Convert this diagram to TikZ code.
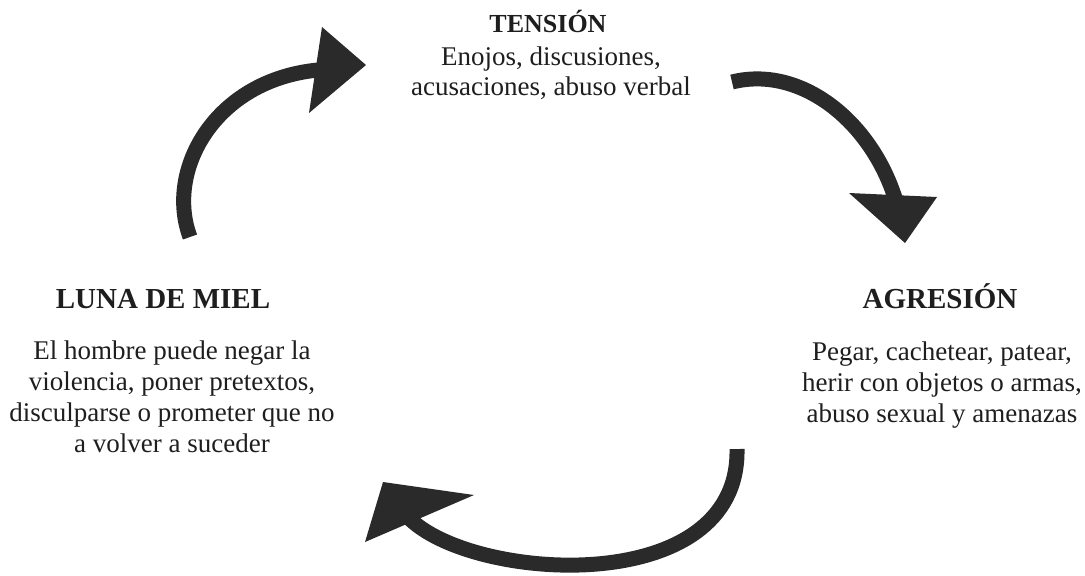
\documentclass[tikz,border=0pt]{standalone}
\usepackage{fontspec}
\setmainfont{Liberation Serif}
\usetikzlibrary{arrows.meta}
\definecolor{arrowgray}{HTML}{2A2A2A}
\definecolor{textgray}{HTML}{1E1E1E}

\begin{document}
\begin{tikzpicture}[x=0.5pt, y=-0.5pt,
    head/.style={anchor=base, inner sep=0pt, text=textgray, font=\fontsize{14.5}{16}\selectfont\bfseries},
    desc/.style={anchor=base, inner sep=0pt, align=center, text=textgray, font=\fontsize{13.5}{15.5}\selectfont},
    shaft/.style={draw=arrowgray, line width=7.5pt},
    tip/.style={fill=arrowgray}]
    \useasboundingbox (0,0) rectangle (1085,575);

    % text (desc nodes sit on the baseline of their last line)
    \node[head, font=\fontsize{13}{15}\selectfont\bfseries] (tension) at (548,32) {TENSIÓN};
    \node[desc, font=\fontsize{13.5}{15}\selectfont] (tensiontxt) at (551,95) {Enojos, discusiones,\\acusaciones, abuso verbal};
    \node[head] (agresion) at (940,308) {AGRESIÓN};
    \node[desc] (agresiontxt) at (942,422) {Pegar, cachetear, patear,\\herir con objetos o armas,\\abuso sexual y amenazas};
    \node[head] (luna) at (163,308) {LUNA DE MIEL};
    \node[desc] (lunatxt) at (172,452) {El hombre puede negar la\\violencia, poner pretextos,\\disculparse o prometer que no\\a volver a suceder};

    % arrow ends
    \coordinate (s1) at (190,237);
    \coordinate (e1) at (318,70);
    \coordinate (s2) at (732,82);
    \coordinate (e2) at (895,198);
    \coordinate (s3) at (737,449);
    \coordinate (e3) at (408,517);

    \draw[shaft] (s1) .. controls (165,170) and (215,80) .. (e1);
    \fill[tip] (322,27) -- (366,65) -- (309,113) -- cycle;

    \draw[shaft] (s2) .. controls (800,65) and (870,120) .. (e2);
    \fill[tip] (849,193) -- (937,197) -- (905,243) -- cycle;

    \draw[shaft] (s3) .. controls (740,600) and (470,582) .. (e3);
    \fill[tip] (383,482) -- (474,495) -- (365,542) -- cycle;

\end{tikzpicture}
\end{document}
